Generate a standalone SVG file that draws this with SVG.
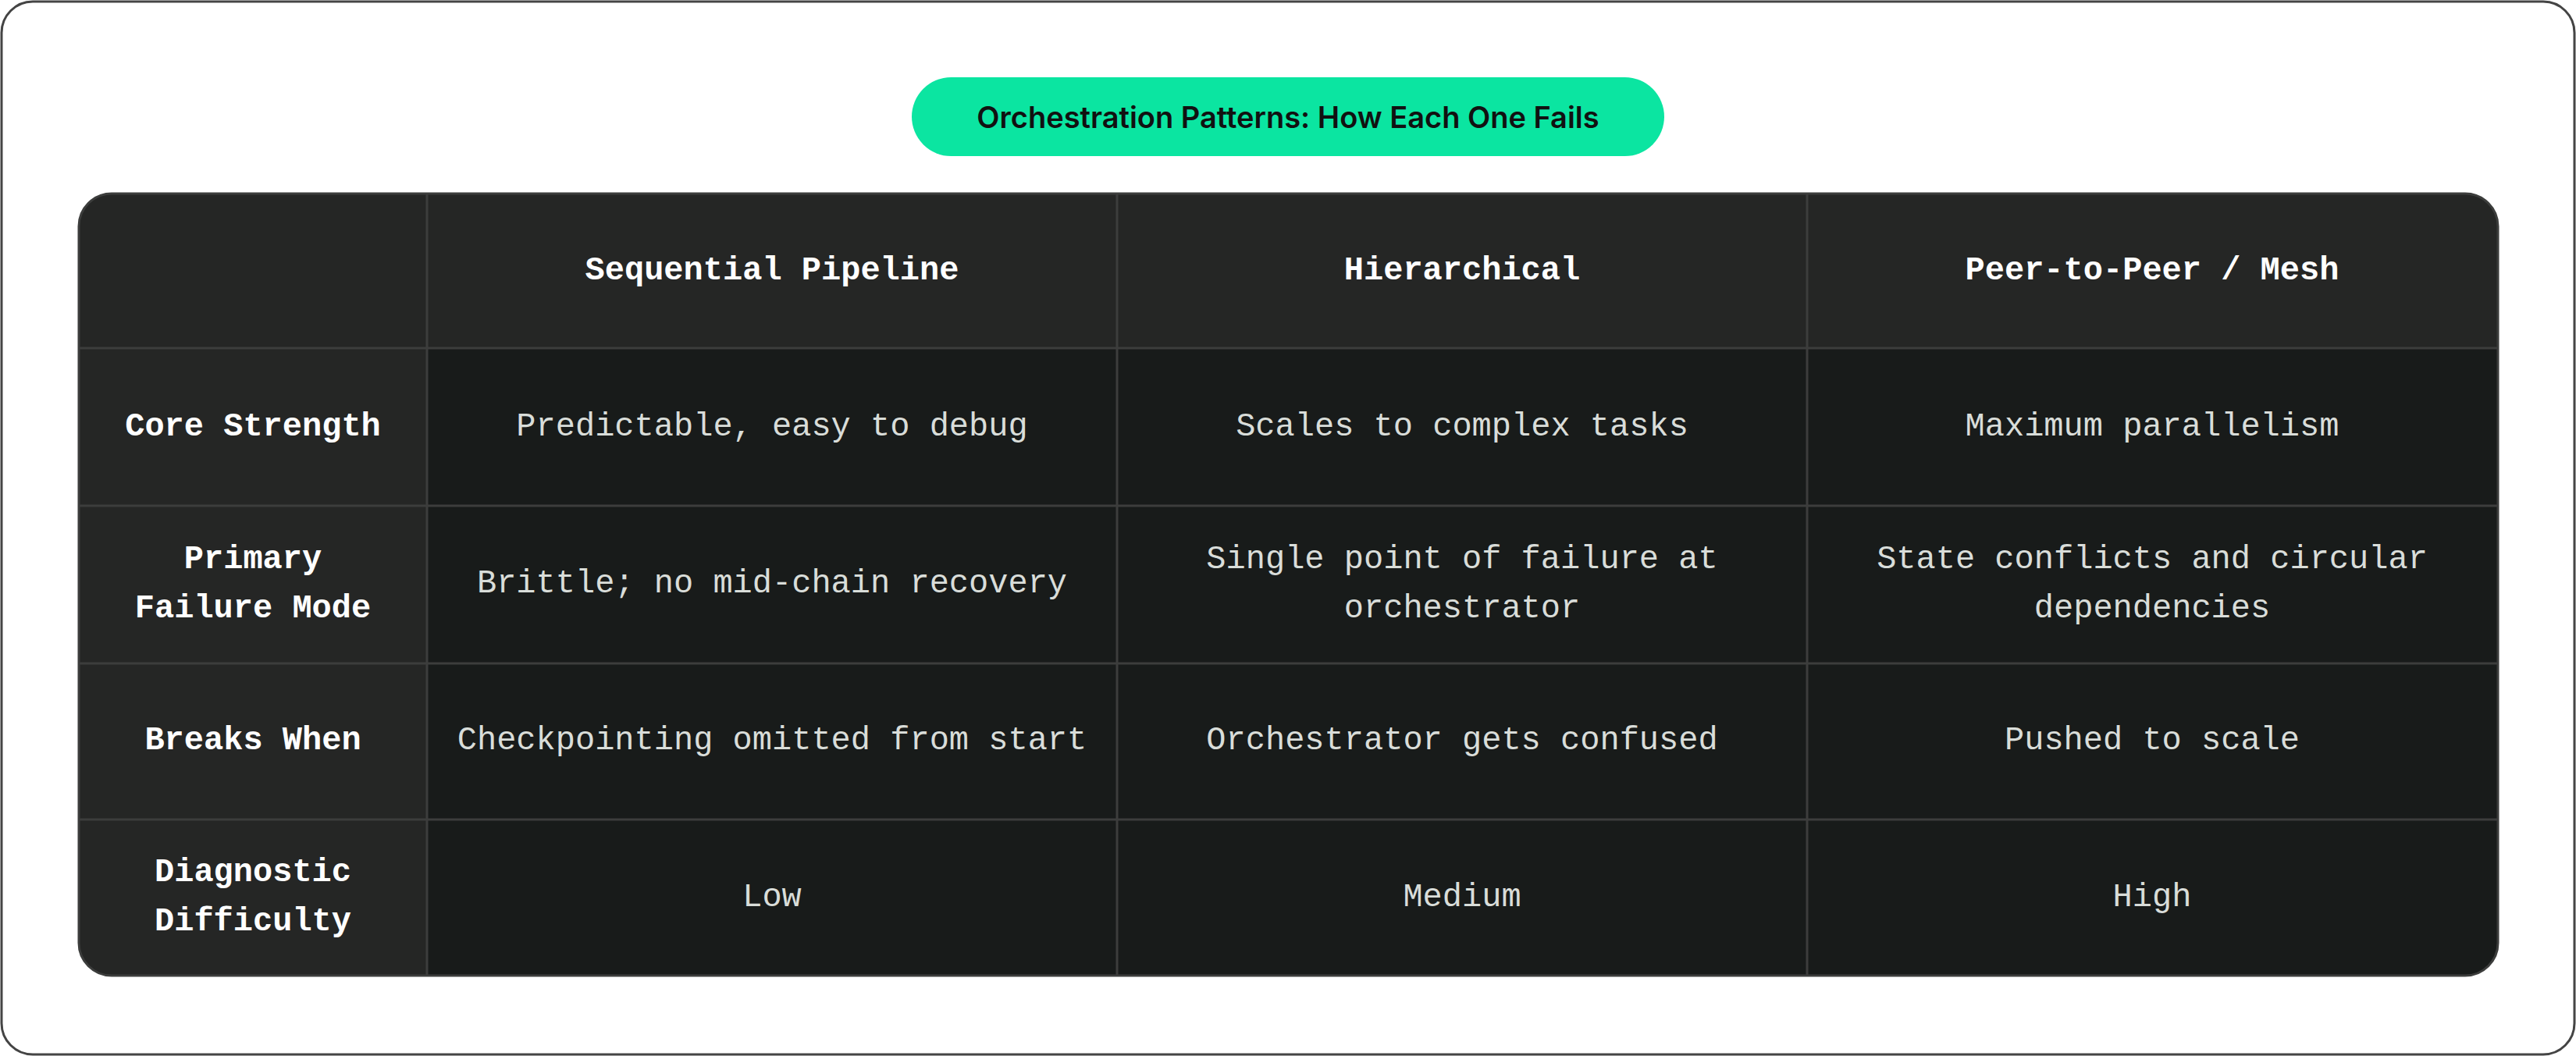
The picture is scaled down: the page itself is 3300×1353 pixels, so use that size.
<svg xmlns="http://www.w3.org/2000/svg" width="3300" height="1353" viewBox="0 0 3300 1353">
<style>
.t{font-family:"Liberation Mono","DejaVu Sans Mono",monospace;font-size:42px;fill:#d9ddd9;text-anchor:middle;dominant-baseline:central}
.h{font-family:"Liberation Mono","DejaVu Sans Mono",monospace;font-size:42px;font-weight:bold;fill:#ffffff;text-anchor:middle;dominant-baseline:central}
.g{stroke:#3c3d3c;stroke-width:3;fill:none}
</style>
<defs><clipPath id="c"><rect x="101" y="248" width="3099" height="1002" rx="42"/></clipPath></defs>
<rect x="2" y="2" width="3296" height="1349" rx="40" fill="#ffffff" stroke="#444" stroke-width="3"/>
<g id="title">
<rect x="1168" y="99" width="964" height="101" rx="50.5" fill="#0be5a1"/>
<text x="1650" y="150" font-family="Inter,'Liberation Sans',sans-serif" font-size="38" font-weight="600" fill="#111" text-anchor="middle" dominant-baseline="central">Orchestration Patterns: How Each One Fails</text>
</g>
<g id="table" clip-path="url(#c)">
<rect x="101" y="248" width="3099" height="1002" fill="#181b1a"/>
<rect x="101" y="248" width="3099" height="198" fill="#252625"/>
<rect x="101" y="248" width="446" height="1002" fill="#252625"/>
</g>
<g id="grid">
<path class="g" d="M547 248V1250M1431 248V1250M2315 248V1250M101 446H3200M101 648H3200M101 850H3200M101 1050H3200"/>
<rect x="101" y="248" width="3099" height="1002" rx="42" fill="none" stroke="#3c3d3c" stroke-width="3"/>
</g>
<g id="header">
<text class="h" x="989" y="347">Sequential Pipeline</text>
<text class="h" x="1873" y="347">Hierarchical</text>
<text class="h" x="2757" y="347">Peer-to-Peer / Mesh</text>
</g>
<g id="row1">
<text class="h" x="324" y="547">Core Strength</text>
<text class="t" x="989" y="547">Predictable, easy to debug</text>
<text class="t" x="1873" y="547">Scales to complex tasks</text>
<text class="t" x="2757" y="547">Maximum parallelism</text>
</g>
<g id="row2">
<text class="h" x="324" y="717">Primary</text>
<text class="h" x="324" y="780">Failure Mode</text>
<text class="t" x="989" y="748">Brittle; no mid-chain recovery</text>
<text class="t" x="1873" y="717">Single point of failure at</text>
<text class="t" x="1873" y="780">orchestrator</text>
<text class="t" x="2757" y="717">State conflicts and circular</text>
<text class="t" x="2757" y="780">dependencies</text>
</g>
<g id="row3">
<text class="h" x="324" y="949">Breaks When</text>
<text class="t" x="989" y="949">Checkpointing omitted from start</text>
<text class="t" x="1873" y="949">Orchestrator gets confused</text>
<text class="t" x="2757" y="949">Pushed to scale</text>
</g>
<g id="row4">
<text class="h" x="324" y="1118">Diagnostic</text>
<text class="h" x="324" y="1181">Difficulty</text>
<text class="t" x="989" y="1150">Low</text>
<text class="t" x="1873" y="1150">Medium</text>
<text class="t" x="2757" y="1150">High</text>
</g>
</svg>
